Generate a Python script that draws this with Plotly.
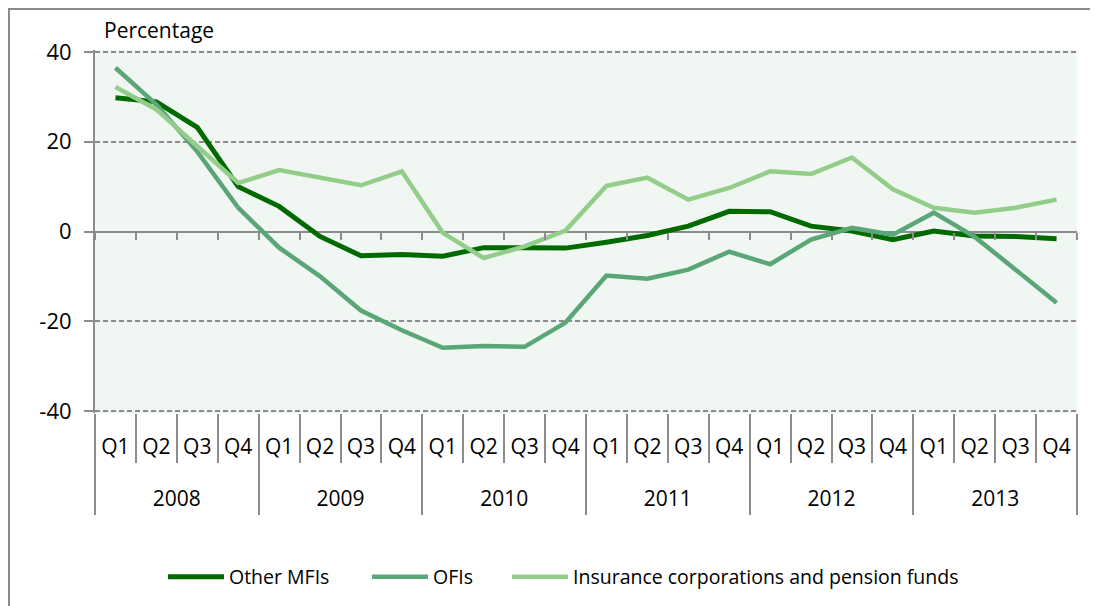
import plotly.graph_objects as go

# Data (annual growth, percentage)
years = ["2008", "2009", "2010", "2011", "2012", "2013"]
quarters = ["Q1", "Q2", "Q3", "Q4"]
y_ticks = [-40, -20, 0, 20, 40]
y_ticktext = ["-40", "-20", "0", "20", "40"]

other_mfis = [29.8, 28.9, 23.2, 10.0, 5.6, -1.1, -5.4, -5.1,
              -5.5, -3.6, -3.6, -3.7, -2.4, -0.9, 1.2, 4.5,
              4.4, 1.2, 0.1, -1.8, 0.1, -1.0, -1.1, -1.6]
ofis = [36.5, 28.3, 17.8, 5.3, -3.6, -10.0, -17.6, -22.0,
        -25.9, -25.5, -25.7, -20.3, -9.8, -10.5, -8.5, -4.5,
        -7.3, -1.8, 0.8, -0.7, 4.2, -1.2, -8.5, -15.9]
insurance = [32.2, 27.2, 19.0, 10.8, 13.7, 12.0, 10.3, 13.4,
             -0.3, -5.9, -3.3, 0.2, 10.2, 12.0, 7.1, 9.7,
             13.4, 12.8, 16.5, 9.4, 5.3, 4.2, 5.3, 7.1]

series = [
    ("Other MFIs", other_mfis, "#006a00", 5),
    ("OFIs", ofis, "#5aa677", 4.5),
    ("Insurance corporations and pension funds", insurance, "#93cd8a", 4.5),
]

nq = len(quarters)
n = len(years) * nq
xpos = list(range(n))
q_labels = [q for y in years for q in quarters]
q_bounds = [i - 0.5 for i in range(n + 1)]
y_bounds = [i * nq - 0.5 for i in range(len(years) + 1)]
y_centers = [i * nq + (nq - 1) / 2 for i in range(len(years))]

# page body has an 8px margin, so the figure is 8px smaller each way
W, H = 1090, 598
ML, MR, MT, MB = 87, 21, 42, 193
pw, ph = W - ML - MR, H - MT - MB
# -40..40 spans 359px; pad the range by 2px so the edge gridlines are kept
YMAX = 40 * ph / 359

FONT = "Open Sans"
GRAY = "#8c8c8c"
XR = [-0.5, n - 0.5]

# left pixel of each legend entry's line (figure coords)
legend_left = [160, 364, 504]
legend_names = ["legend", "legend2", "legend3"]

fig = go.Figure()
for (name, vals, color, width), lg in zip(series, legend_names):
    fig.add_trace(go.Scatter(
        x=xpos, y=vals, mode="lines", name=name, legend=lg,
        line=dict(color=color, width=width),
    ))

free_axis = dict(overlaying="x", anchor="free", side="bottom", range=XR,
                 showgrid=False, zeroline=False, showline=False)

legends = {}
for lg, left in zip(legend_names, legend_left):
    legends[lg] = dict(
        orientation="h", x=(left - 5 - ML) / pw, xanchor="left",
        y=(MT + ph - 569) / ph, yanchor="middle",
        font=dict(size=19.5), itemwidth=56, bgcolor="rgba(0,0,0,0)",
    )

fig.update_layout(
    width=W, height=H,
    margin=dict(l=ML, r=MR, t=MT, b=MB, autoexpand=False),
    paper_bgcolor="white",
    plot_bgcolor="#f0f7f2",
    font=dict(family=FONT, size=21, color="black"),
    showlegend=True,
    **legends,
    # quarter labels
    xaxis=dict(
        range=XR, tickvals=xpos, ticktext=q_labels,
        showline=False, showgrid=False, zeroline=False, ticks="",
        tickfont=dict(size=21), ticklabelstandoff=19,
    ),
    # tick marks along the zero line
    xaxis2=dict(free_axis, position=0.5, tickvals=q_bounds, showticklabels=False,
                ticks="outside", ticklen=7, tickwidth=2, tickcolor=GRAY),
    # quarter separators
    xaxis3=dict(free_axis, position=0, tickvals=q_bounds, showticklabels=False,
                ticks="outside", ticklen=49, tickwidth=2, tickcolor=GRAY),
    # year separators
    xaxis4=dict(free_axis, position=0, tickvals=y_bounds, showticklabels=False,
                ticks="outside", ticklen=101, tickwidth=2, tickcolor=GRAY),
    # year labels
    xaxis5=dict(free_axis, position=0, tickvals=y_centers, ticktext=years,
                ticks="", tickfont=dict(size=21), ticklabelstandoff=71),
    yaxis=dict(
        range=[-YMAX, YMAX], tickvals=y_ticks, ticktext=y_ticktext,
        showline=True, linecolor=GRAY, linewidth=2,
        ticks="outside", ticklen=9, tickwidth=2, tickcolor=GRAY,
        showgrid=True, gridcolor=GRAY, gridwidth=1.5, griddash="5px,3px",
        zeroline=True, zerolinecolor=GRAY, zerolinewidth=2,
        tickfont=dict(size=22), ticklabelstandoff=8,
    ),
    annotations=[dict(
        text="Percentage", xref="paper", yref="paper",
        x=(94 - ML) / pw, y=1 + (MT - 22) / ph, xanchor="left", yanchor="middle",
        showarrow=False, font=dict(size=21),
    )],
    shapes=[dict(
        type="rect", xref="paper", yref="paper",
        x0=(1 - ML) / pw, x1=(W + 5 - ML) / pw,
        y0=-(H + 5 - ph - MT) / ph, y1=1 + (MT - 1) / ph,
        line=dict(color="#8a8a8a", width=2), layer="below",
    )],
)

# empty traces so the helper axes get drawn
for ax in ["x2", "x3", "x4", "x5"]:
    fig.add_trace(go.Scatter(x=[], y=[], xaxis=ax, showlegend=False, hoverinfo="skip"))

fig.write_html("out.html")
